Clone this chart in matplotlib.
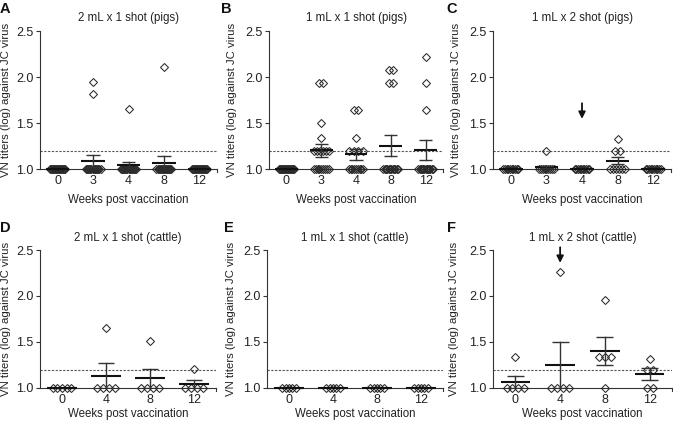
import matplotlib
matplotlib.use("Agg")
import matplotlib.pyplot as plt
import numpy as np

plt.rcParams['font.family'] = ['Liberation Sans', 'DejaVu Sans']

W, H = 673, 424

# ---------------- data ----------------
pig_weeks = ["0", "3", "4", "8", "12"]
cattle_weeks = ["0", "4", "8", "12"]
cutoff = 1.2
y_label = "VN titers (log) against JC virus"
x_label = "Weeks post vaccination"

# Panel A: 2 mL x 1 shot (pigs)
A_title = "2 mL x 1 shot (pigs)"
A_raised = [[], [1.95, 1.81], [1.65], [2.11], []]
A_baseline_n = [16, 14, 15, 15, 16]
A_mean = [1.0, 1.09, 1.04, 1.07, 1.0]
A_sem = [0.0, 0.065, 0.035, 0.07, 0.0]

# Panel B: 1 mL x 1 shot (pigs)
B_title = "1 mL x 1 shot (pigs)"
B_raised = [[],
            [1.93, 1.93, 1.50, 1.34, 1.20, 1.20, 1.20, 1.20, 1.20, 1.20],
            [1.64, 1.64, 1.34, 1.20, 1.20, 1.20, 1.20],
            [2.08, 2.08, 1.93, 1.93],
            [2.22, 1.93, 1.64]]
B_baseline_n = [16, 9, 9, 12, 13]
B_mean = [1.0, 1.205, 1.16, 1.255, 1.205]
B_sem = [0.0, 0.07, 0.06, 0.115, 0.11]

# Panel C: 1 mL x 2 shot (pigs)
C_title = "1 mL x 2 shot (pigs)"
C_raised = [[], [1.20], [], [1.33, 1.20, 1.20], []]
C_baseline_n = [10, 9, 10, 6, 10]
C_mean = [1.0, 1.02, 1.0, 1.09, 1.0]
C_sem = [0.0, 0.01, 0.0, 0.04, 0.0]
C_arrow = (2, 1.715, 1.545)

# Panel D: 2 mL x 1 shot (cattle)
D_title = "2 mL x 1 shot (cattle)"
D_raised = [[], [1.65], [1.51], [1.21]]
D_baseline_n = [5, 4, 4, 4]
D_mean = [1.0, 1.135, 1.105, 1.045]
D_sem = [0.0, 0.135, 0.105, 0.04]

# Panel E: 1 mL x 1 shot (cattle)
E_title = "1 mL x 1 shot (cattle)"
E_raised = [[], [], [], []]
E_baseline_n = [5, 5, 5, 5]
E_mean = [1.0, 1.0, 1.0, 1.0]
E_sem = [0.0, 0.0, 0.0, 0.0]

# Panel F: 1 mL x 2 shot (cattle)
F_title = "1 mL x 2 shot (cattle)"
F_raised = [[1.34], [2.26], [1.96, 1.34, 1.34, 1.34], [1.31, 1.20, 1.20]]
F_baseline_n = [4, 4, 1, 2]
F_mean = [1.07, 1.255, 1.40, 1.155]
F_sem = [0.065, 0.25, 0.155, 0.065]
F_arrow = (1, 2.53, 2.36)

# ---------------- layout (pixels) ----------------
fig = plt.figure(figsize=(W / 100, H / 100), dpi=100)


def fx(px):
    return px / W


def fy(py):
    return 1 - py / H


def draw_panel(box, letter, letter_xy, ylab_x, xlab_y, title_y, title,
               weeks, raised, base_n, mean, sem, arrow=None, spread=0.42,
               step_max=0.13):
    L, R, T, B = box
    ax = fig.add_axes([fx(L), fy(B), fx(R - L), (B - T) / H])
    n = len(weeks)
    ax.set_xlim(-0.5, n - 0.5)
    ax.set_ylim(1.0, 2.5)
    for s in ("top", "right"):
        ax.spines[s].set_visible(False)
    for s in ("left", "bottom"):
        ax.spines[s].set_color("#333333")
        ax.spines[s].set_linewidth(0.8)
    ax.set_yticks([1.0, 1.5, 2.0, 2.5])
    ax.set_yticklabels(["1.0", "1.5", "2.0", "2.5"])
    ax.set_xticks(range(n))
    ax.set_xticklabels(weeks)
    ax.tick_params(axis="y", length=3, width=0.8, color="#333333",
                   labelsize=9, pad=1.5, labelcolor="#222222")
    ax.tick_params(axis="x", length=0, labelsize=9, pad=4.3,
                   labelcolor="#222222")
    # right end tick of x axis
    ax.plot([1, 1], [0, -0.025], transform=ax.transAxes, color="#333333",
            lw=0.8, clip_on=False)
    # cutoff line
    ax.axhline(cutoff, color="#555555", lw=0.8, ls=(0, (2.0, 1.4)), zorder=1)

    # points
    for i in range(n):
        vals = list(raised[i]) + [1.0] * base_n[i]
        uniq = sorted(set(vals))
        for v in uniq:
            k = vals.count(v)
            step = min(step_max, spread / (k - 1)) if k > 1 else 0
            xs = i + (np.arange(k) - (k - 1) / 2) * step
            ax.plot(xs, [v] * k, "D", ms=3.9, mfc="none", mec="#2a2a2a",
                    mew=0.75, clip_on=False, zorder=3)
        # mean and SEM
        m, e = mean[i], sem[i]
        ax.plot([i - 0.33, i + 0.33], [m, m], color="#111111", lw=1.5,
                zorder=4, clip_on=False, solid_capstyle="butt")
        if e > 0:
            ax.plot([i, i], [m - e, m + e], color="#333333", lw=1.0, zorder=4)
            for yy in (m - e, m + e):
                ax.plot([i - 0.19, i + 0.19], [yy, yy], color="#333333",
                        lw=1.0, zorder=4, solid_capstyle="butt")
    if arrow is not None:
        xi, y0, y1 = arrow
        ax.annotate("", xy=(xi, y1), xytext=(xi, y0),
                    arrowprops=dict(arrowstyle="-|>", color="#111111", lw=1.3,
                                    mutation_scale=10, shrinkA=0, shrinkB=0),
                    annotation_clip=False)

    cx = (L + R) / 2
    fig.text(fx(cx), fy(title_y), title, ha="center", va="center",
             fontsize=8.3, color="#222222")
    fig.text(fx(cx), fy(xlab_y), x_label, ha="center", va="center",
             fontsize=8.3, color="#222222")
    fig.text(fx(ylab_x), fy((T + B) / 2), y_label, ha="center", va="center",
             rotation=90, fontsize=8.2, color="#222222")
    fig.text(fx(letter_xy[0]), fy(letter_xy[1]), letter, ha="center",
             va="center", fontsize=10.5, fontweight="bold", color="#111111")
    return ax


TOP = (31, 169)
BOT = (250, 388)

draw_panel((40, 217, *TOP), "A", (5, 9), 6, 200, 18, A_title, pig_weeks,
           A_raised, A_baseline_n, A_mean, A_sem)
draw_panel((269, 443, *TOP), "B", (226, 9), 232, 200, 18, B_title, pig_weeks,
           B_raised, B_baseline_n, B_mean, B_sem)
draw_panel((493, 671, *TOP), "C", (452, 9), 456, 200, 18, C_title, pig_weeks,
           C_raised, C_baseline_n, C_mean, C_sem, arrow=C_arrow)
draw_panel((40, 216, *BOT), "D", (5, 228), 6, 414, 238, D_title,
           cattle_weeks, D_raised, D_baseline_n, D_mean, D_sem)
draw_panel((267, 443, *BOT), "E", (229, 228), 231, 414, 238, E_title,
           cattle_weeks, E_raised, E_baseline_n, E_mean, E_sem, spread=0.3)
draw_panel((493, 672, *BOT), "F", (452, 228), 454, 414, 238, F_title,
           cattle_weeks, F_raised, F_baseline_n, F_mean, F_sem, arrow=F_arrow)

fig.savefig("out.png", dpi=100, facecolor="white")
